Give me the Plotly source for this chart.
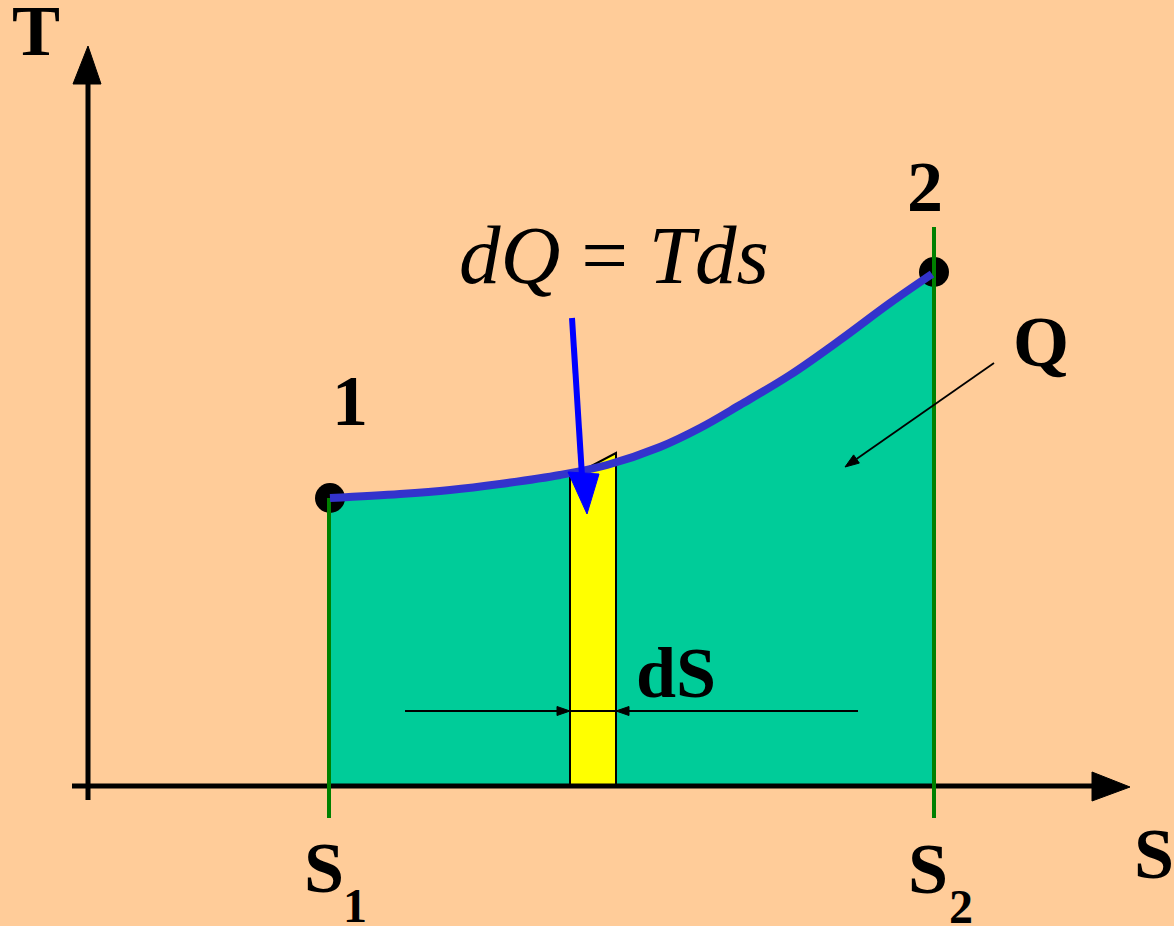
import math
import plotly.graph_objects as go

# ---- diagram data (canvas pixel units: x to the right, y downward) ----
curve_s = [330, 400, 450, 500, 560, 607, 660, 700, 740, 790, 840, 890, 932]
curve_t = [498, 494, 490, 484, 475, 465, 447, 428, 405, 375, 340, 303, 274]
base_t = 786
s1_x, s2_x = 329, 934
state_labels = ["1", "2"]
state_s = [330, 934]
state_t = [498, 272]

strip_s = [570, 570, 616, 616, 570]
strip_t = [786, 477, 453, 786, 786]

BG = "#FFCC99"
GREEN_FILL = "#00CC99"
CURVE = "#3333CC"
ARROW_BLUE = "#0000FF"
GREEN_LINE = "#008000"
FONT = "Liberation Serif"

fig = go.Figure()

def poly(xs, ys, color, lw=1):
    fig.add_trace(go.Scatter(x=xs, y=ys, mode="lines", fill="toself", fillcolor=color,
                             line=dict(color=color, width=lw), hoverinfo="skip", showlegend=False))

def seg(xs, ys, color, w):
    fig.add_trace(go.Scatter(x=xs, y=ys, mode="lines", line=dict(color=color, width=w),
                             hoverinfo="skip", showlegend=False))

def arrow(x0, y0, x1, y1, w=2, head_len=13, head_half=4.5, color="black"):
    dx, dy = x1 - x0, y1 - y0
    L = math.hypot(dx, dy)
    ux, uy = dx / L, dy / L
    bx, by = x1 - head_len * ux, y1 - head_len * uy
    px, py = -uy * head_half, ux * head_half
    seg([x0, bx], [y0, by], color, w)
    poly([bx + px, x1, bx - px, bx + px], [by + py, y1, by - py, by + py], color)

# area under the curve
fig.add_trace(go.Scatter(x=[curve_s[0], curve_s[-1]], y=[base_t, base_t], mode="lines",
                         line=dict(width=0), hoverinfo="skip", showlegend=False))
fig.add_trace(go.Scatter(x=curve_s, y=curve_t, mode="lines", line=dict(width=0, shape="spline"),
                         fill="tonexty", fillcolor=GREEN_FILL, hoverinfo="skip", showlegend=False))

# yellow strip
fig.add_trace(go.Scatter(x=strip_s, y=strip_t, mode="lines", fill="toself", fillcolor="#FFFF00",
                         line=dict(color="black", width=2), hoverinfo="skip", showlegend=False))

# axes
seg([72, 1095], [786, 786], "black", 5)
seg([88, 88], [800, 82], "black", 5)
poly([1092, 1130, 1092, 1092], [772, 787, 801, 772], "black")
poly([73, 88, 101, 73], [84, 46, 84, 84], "black")

# state points
fig.add_trace(go.Scatter(x=state_s, y=state_t, mode="markers", marker=dict(color="black", size=30),
                         hoverinfo="skip", showlegend=False))

# green vertical lines at S1, S2
seg([s1_x, s1_x], [498, 818], GREEN_LINE, 4)
seg([s2_x, s2_x], [227, 818], GREEN_LINE, 4)

# process curve
fig.add_trace(go.Scatter(x=curve_s, y=curve_t, mode="lines", line=dict(color=CURVE, width=8, shape="spline"),
                         hoverinfo="skip", showlegend=False))

# blue arrow to strip
seg([572, 582], [318, 476], ARROW_BLUE, 6)
poly([568, 599, 587, 568], [472, 474, 514, 472], ARROW_BLUE)

# dS dimension line
seg([570, 616], [711, 711], "black", 2)
arrow(405, 711, 570, 711)
arrow(858, 711, 616, 711)
arrow(994, 363, 845, 467, w=1.8, head_len=14, head_half=5)

def label(x, y, text, size=72):
    fig.add_annotation(x=x, y=y, xref="x", yref="y", text=text, showarrow=False,
                       font=dict(family=FONT, size=size, color="black"), xanchor="center", yanchor="middle")

label(36, 31, "<b>T</b>")
label(350, 401, "<b>" + state_labels[0] + "</b>")
label(925, 187, "<b>" + state_labels[1] + "</b>")
label(1041, 342, "<b>Q</b>")
label(676, 673, "<b>dS</b>")
label(1154, 854, "<b>S</b>")
label(324, 868, "<b>S</b>")
label(355, 905, "<b>1</b>", size=48)
label(928, 869, "<b>S</b>")
label(961, 906, "<b>2</b>", size=48)
label(614, 255, "<i>dQ</i> = <i>Tds</i>", size=83)

fig.update_layout(
    width=1174, height=926, autosize=False,
    margin=dict(l=0, r=0, t=0, b=0),
    paper_bgcolor=BG, plot_bgcolor=BG,
    xaxis=dict(range=[0, 1174], visible=False, fixedrange=True),
    yaxis=dict(range=[926, 0], visible=False, fixedrange=True),
    showlegend=False,
)

fig.write_html("out.html", config={"displayModeBar": False},
               post_script="document.body.style.margin='0';document.body.style.background='" + BG + "';")
